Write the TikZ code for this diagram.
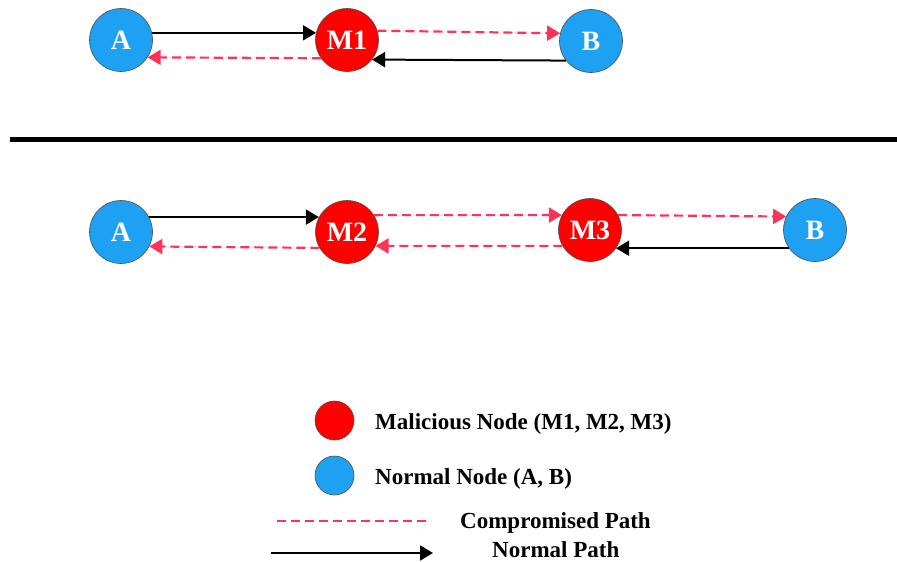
\documentclass[tikz,border=0pt]{standalone}
\usepackage{fontspec}
\setmainfont{Liberation Serif}
\usetikzlibrary{arrows.meta}
\definecolor{malred}{HTML}{FF0000}
\definecolor{normblue}{HTML}{1EA1F2}
\definecolor{comppink}{HTML}{FF3358}
\tikzset{
  tip/.style={-{Triangle[length=13pt,width=15pt]}},
  peer/.style={circle, draw=black!70, line width=0.6pt, minimum size=63pt, inner sep=0pt,
    text=white, font=\fontsize{28}{28}\selectfont\bfseries},
  malnode/.style={peer, fill=malred},
  normnode/.style={peer, fill=normblue},
  keydot/.style={circle, draw=black!70, line width=0.6pt, minimum size=39pt, inner sep=0pt},
  normpath/.style={draw=black, line width=2pt, tip},
  compline/.style={draw=comppink, line width=2.2pt, dash pattern=on 9pt off 5pt},
  comppath/.style={compline, tip, fill=comppink},
  keytext/.style={anchor=base west, inner sep=0pt, font=\fontsize{23}{23}\selectfont\bfseries},
}
\begin{document}
\begin{tikzpicture}[x=1pt, y=-1pt]
\useasboundingbox (0,0) rectangle (897,562);

% upper scenario: a single attacker between A and B
\node[normnode] (A1) at (121,40) {A};
\node[malnode]  (M1) at (347,40) {M1};
\node[normnode] (B1) at (591,41) {B};
\draw[normpath] (A1.13) -- (M1.167);
\draw[comppath] (M1.17) -- (B1.166);
\draw[normpath] (B1.-142) -- (M1.-38);
\draw[comppath] (M1.-145) -- (A1.-33);

% separator
\draw[line width=5pt] (10,139) -- (897,139);

% lower scenario: two colluding attackers
\node[normnode] (A2) at (121,232) {A};
\node[malnode]  (M2) at (347,232) {M2};
\node[malnode]  (M3) at (590,230) {M3};
\node[normnode] (B2) at (815,230) {B};
\draw[normpath] (A2.28) -- (M2.152);
\draw[comppath] (M2.32) -- (M3.152);
\draw[comppath] (M3.-150) -- (M2.-26);
\draw[comppath] (M3.28) -- (B2.155);
\draw[normpath] (B2.-145) -- (M3.-35);
\draw[comppath] (M2.-150) -- (A2.-27);

% legend
\node[keydot, fill=malred]   (kM) at (334.5,420.5) {};
\node[keydot, fill=normblue] (kN) at (334.5,475.5) {};
\node[keytext] (tM) at (375,429) {Malicious Node (M1, M2, M3)};
\node[keytext] (tN) at (375,484) {Normal Node (A, B)};
\coordinate (c1) at (277,521);
\coordinate (c2) at (431,521);
\draw[compline] (c1) -- (c2);
\node[keytext] (tC) at (460,528) {Compromised Path};
\coordinate (n1) at (271,553);
\coordinate (n2) at (433,553);
\draw[normpath] (n1) -- (n2);
\node[keytext, text depth=0pt] (tP) at (492,557) {Normal Path};
\end{tikzpicture}
\end{document}
